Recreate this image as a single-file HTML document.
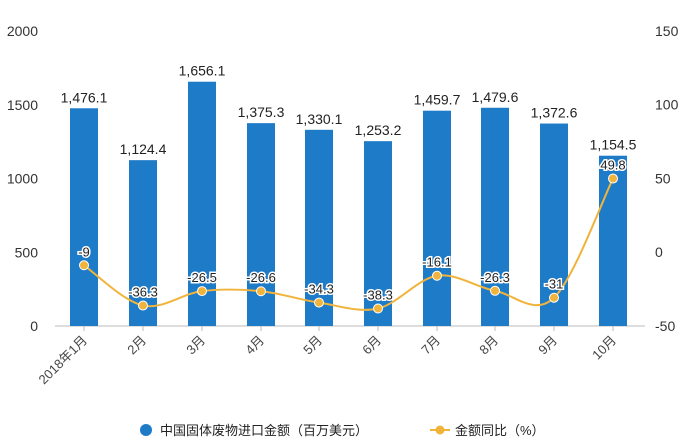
<!DOCTYPE html><html><head><meta charset="utf-8"><style>body{margin:0;background:#fff}svg{display:block;font-family:"Liberation Sans","Noto Sans CJK SC",sans-serif}</style></head><body>
<svg id="s" width="695" height="441" xmlns="http://www.w3.org/2000/svg"></svg>
<script>
const s=document.getElementById('s');let h='';
const xs=[84,143,202,261,319,378,437,495,554,613];
const bars=[1476.1,1124.4,1656.1,1375.3,1330.1,1253.2,1459.7,1479.6,1372.6,1154.5];
const pct=[-9,-36.3,-26.5,-26.6,-34.3,-38.3,-16.1,-26.3,-31,49.8];
const labs=['2018年1月','2月','3月','4月','5月','6月','7月','8月','9月','10月'];
const y0=326,k=295/2000,ry=v=>252-v*1.475;
[0,500,1000,1500,2000].forEach(v=>h+=`<text x="38" y="${y0-v*k+5}" text-anchor="end" font-size="14" fill="#333">${v}</text>`);
[-50,0,50,100,150].forEach(v=>h+=`<text x="655" y="${ry(v)+5}" font-size="14" fill="#333">${v}</text>`);
h+=`<line x1="55" y1="${y0}" x2="645" y2="${y0}" stroke="#bbb"/>`;
xs.forEach((x,i)=>{const t=y0-bars[i]*k;
h+=`<rect x="${x-14}" y="${t}" width="28" height="${y0-t}" fill="#1e7bc8"/>`;
h+=`<line x1="${x}" y1="${y0}" x2="${x}" y2="${y0+5}" stroke="#bbb"/>`;
h+=`<text x="${x}" y="${t-6}" text-anchor="middle" font-size="14" fill="#222">${bars[i].toLocaleString('en-US',{minimumFractionDigits:1})}</text>`;
h+=`<text transform="translate(${x+4},${y0+15}) rotate(-45)" text-anchor="end" font-size="13" fill="#444">${labs[i]}</text>`;});
const p=xs.map((x,i)=>[x,ry(pct[i])]);let d=`M${p[0]}`;
for(let i=0;i<p.length-1;i++){const a=p[Math.max(i-1,0)],b=p[i],c=p[i+1],e=p[Math.min(i+2,p.length-1)];
d+=`C${b[0]+(c[0]-a[0])/6},${b[1]+(c[1]-a[1])/6} ${c[0]-(e[0]-b[0])/6},${c[1]-(e[1]-b[1])/6} ${c[0]},${c[1]}`;}
h+=`<path d="${d}" fill="none" stroke="#f0b43c" stroke-width="2"/>`;
p.forEach((q,i)=>{h+=`<circle cx="${q[0]}" cy="${q[1]}" r="4.5" fill="#f0b43c" stroke="#fff" stroke-width="1"/>`;
h+=`<text x="${q[0]}" y="${q[1]-9}" text-anchor="middle" font-size="13" fill="#222" stroke="#fff" stroke-width="3" paint-order="stroke">${pct[i]}</text>`;});
h+=`<circle cx="146" cy="430" r="6" fill="#1e7bc8"/><text x="160" y="435" font-size="13" fill="#222">中国固体废物进口金额（百万美元）</text>`;
h+=`<line x1="430" y1="430" x2="450" y2="430" stroke="#f0b43c" stroke-width="2"/><circle cx="440" cy="430" r="4.5" fill="#f0b43c"/><text x="455" y="435" font-size="13" fill="#222">金额同比（%）</text>`;
s.innerHTML=h;
</script></body></html>
